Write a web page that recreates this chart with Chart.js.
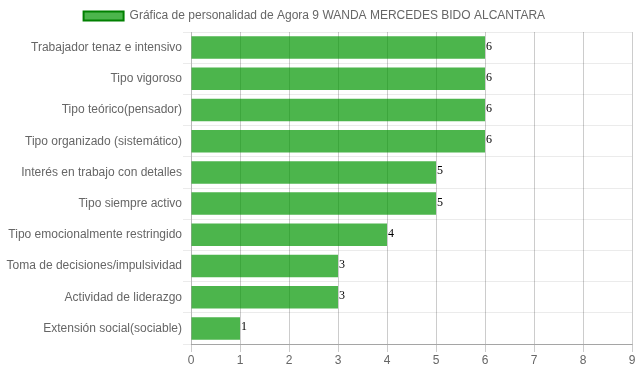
<!DOCTYPE html>
<html>
<head>
<meta charset="utf-8">
<script src="https://cdn.jsdelivr.net/npm/chart.js@4"></script>
<style>
html,body{margin:0;padding:0;background:#fff;}
#wrap{width:639px;height:372px;position:relative;}
</style>
</head>
<body>
<div id="wrap"><canvas id="c"></canvas></div>
<script>
const categories = [
  "Trabajador tenaz e intensivo",
  "Tipo vigoroso",
  "Tipo teórico(pensador)",
  "Tipo organizado (sistemático)",
  "Interés en trabajo con detalles",
  "Tipo siempre activo",
  "Tipo emocionalmente restringido",
  "Toma de decisiones/impulsividad",
  "Actividad de liderazgo",
  "Extensión social(sociable)"
];
const values = [6, 6, 6, 6, 5, 5, 4, 3, 3, 1];
const seriesLabel = "Gráfica de personalidad de Agora 9 WANDA MERCEDES BIDO ALCANTARA";
const xMin = 0, xMax = 9, xStep = 1;

const valueLabels = {
  id: 'valueLabels',
  afterDatasetsDraw(chart) {
    const ctx = chart.ctx;
    const meta = chart.getDatasetMeta(0);
    ctx.save();
    ctx.font = '12px "Liberation Serif", "Times New Roman", serif';
    ctx.fillStyle = '#000';
    ctx.textAlign = 'left';
    ctx.textBaseline = 'alphabetic';
    meta.data.forEach((bar, i) => {
      ctx.fillText(String(values[i]), bar.x + 1, bar.y + 2);
    });
    ctx.restore();
  }
};

Chart.defaults.font.family = '"Liberation Sans", Arial, sans-serif';
Chart.defaults.font.size = 12;
Chart.defaults.color = '#666';

new Chart(document.getElementById('c'), {
  type: 'bar',
  data: {
    labels: categories,
    datasets: [{
      label: seriesLabel,
      data: values,
      backgroundColor: 'rgba(0,150,0,0.7)',
      borderColor: 'rgb(0,128,0)',
      borderWidth: 0
    }]
  },
  options: {
    indexAxis: 'y',
    responsive: true,
    maintainAspectRatio: false,
    animation: false,
    layout: { padding: { left: 0, right: 7, top: 0, bottom: 0 } },
    plugins: {
      legend: {
        display: true,
        labels: {
          boxWidth: 40,
          boxHeight: 9,
          generateLabels(chart) {
            const items = Chart.defaults.plugins.legend.labels.generateLabels(chart);
            items.forEach(it => {
              it.lineWidth = 2;
              it.strokeStyle = 'rgb(0,128,0)';
              it.text = it.text + ' ';
            });
            return items;
          }
        }
      },
      tooltip: { enabled: false }
    },
    scales: {
      x: {
        min: xMin, max: xMax,
        ticks: { stepSize: xStep, color: '#666', padding: 1 },
        grid: { color: 'rgba(0,0,0,0.2)' },
        border: { color: 'rgba(0,0,0,0.3)' },
        afterFit(s) { s.height = 28; }
      },
      y: {
        ticks: { color: '#666', padding: 1 },
        grid: { color: 'rgba(0,0,0,0.08)' },
        border: { color: 'rgba(0,0,0,0.1)' },
        afterFit(s) { s.width = 191; }
      }
    }
  },
  plugins: [valueLabels]
});
</script>
</body>
</html>
